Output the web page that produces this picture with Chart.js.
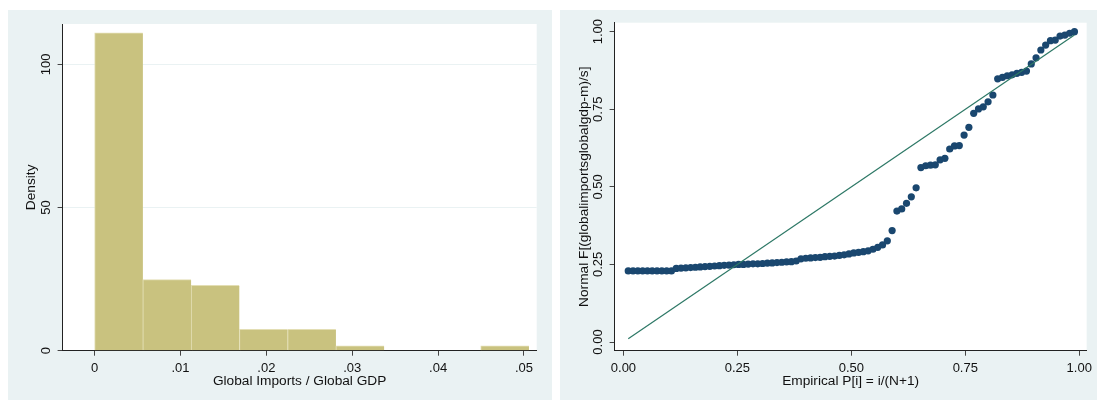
<!DOCTYPE html>
<html>
<head>
<meta charset="utf-8">
<script src="https://cdn.jsdelivr.net/npm/chart.js@4.4.1/dist/chart.umd.min.js"></script>
<style>
  html, body { margin: 0; padding: 0; background: #fff; }
  body { width: 1097px; height: 400px; position: relative; overflow: hidden; }
  .panel { position: absolute; top: 10px; height: 390px; background: #eaf2f3; }
  #left { left: 8px; width: 544px; }
  #right { left: 560px; width: 537px; }
  canvas { display: block; }
</style>
</head>
<body>
<div class="panel" id="left"><canvas id="hist" width="544" height="390"></canvas></div>
<div class="panel" id="right"><canvas id="pnorm" width="537" height="390"></canvas></div>
<script>
// histogram (left panel): bin edges and density heights
const binEdges = [0, 0.00562, 0.01124, 0.01686, 0.02248, 0.0281, 0.03372, 0.03934, 0.04496, 0.05058];
const density = [111.0, 24.8, 22.8, 7.5, 7.5, 1.7, 0, 0, 1.7];
const histXTicks = [0, 0.01, 0.02, 0.03, 0.04, 0.05];
const histYTicks = [0, 50, 100];

// normal probability plot (right panel): Normal F of each sorted observation
const normalF = [
  0.229, 0.229, 0.229, 0.229, 0.229, 0.229, 0.229, 0.229, 0.229, 0.229,
  0.237, 0.238, 0.239, 0.240, 0.241, 0.242, 0.243, 0.244, 0.245, 0.246,
  0.247, 0.248, 0.249, 0.250, 0.250, 0.251, 0.252, 0.252, 0.253, 0.254,
  0.255, 0.256, 0.257, 0.258, 0.259, 0.261, 0.268, 0.270, 0.271, 0.272,
  0.273, 0.275, 0.276, 0.277, 0.279, 0.281, 0.284, 0.287, 0.289, 0.291,
  0.294, 0.299, 0.305, 0.313, 0.326, 0.359, 0.422, 0.429, 0.447, 0.468,
  0.497, 0.562, 0.568, 0.570, 0.571, 0.587, 0.592, 0.622, 0.632, 0.633,
  0.667, 0.692, 0.737, 0.751, 0.758, 0.774, 0.796, 0.848, 0.853, 0.858,
  0.861, 0.866, 0.869, 0.873, 0.896, 0.916, 0.941, 0.957, 0.971, 0.973,
  0.986, 0.989, 0.995, 1.000
];
const ppTicks = [0, 0.25, 0.5, 0.75, 1];

// Empirical P[i] = i/(N+1)
const empiricalP = normalF.map((_, i) => (i + 1) / (normalF.length + 1));

Chart.defaults.font.family = "'Liberation Sans', Arial, Helvetica, sans-serif";
Chart.defaults.color = '#111';

const TEXT = '#111';
const AXIS = '#222';

// white plot region on the light panel background
const plotArea = {
  id: 'plotArea',
  beforeDraw(chart) {
    const { ctx, chartArea: a } = chart;
    ctx.save();
    ctx.fillStyle = '#ffffff';
    ctx.fillRect(a.left, a.top, a.right - a.left, a.bottom - a.top);
    ctx.restore();
  }
};

function setTicks(values) {
  return scale => { scale.ticks = values.map(v => ({ value: v })); };
}
function fixSize(size) {
  return scale => {
    if (scale.isHorizontal()) scale.height = size;
    else scale.width = size;
  };
}

function xAxis(min, max, ticks, fmt, title) {
  return {
    type: 'linear', min: min, max: max, offset: false,
    afterBuildTicks: setTicks(ticks),
    afterFit: fixSize(49.3),
    grid: { drawOnChartArea: false, offset: false, tickLength: 5, tickColor: '#444', color: '#444' },
    border: { color: AXIS, width: 1 },
    ticks: { autoSkip: false, maxRotation: 0, padding: 5, color: TEXT, font: { size: 13 }, callback: fmt },
    title: { display: true, text: title, color: TEXT, font: { size: 13.7 }, padding: { top: 0, bottom: 10.8 } }
  };
}

function yAxis(min, max, ticks, fmt, title, pad, titlePad, gridOn) {
  return {
    type: 'linear', min: min, max: max,
    afterBuildTicks: setTicks(ticks),
    afterFit: fixSize(54.6),
    grid: { drawOnChartArea: gridOn, tickLength: 5, tickColor: '#444', color: '#eaf2f3', lineWidth: 1 },
    border: { color: AXIS, width: 1 },
    ticks: { autoSkip: false, minRotation: 90, maxRotation: 90, crossAlign: 'center', padding: pad,
             color: TEXT, font: { size: 13 }, callback: fmt },
    title: { display: true, text: title, color: TEXT, font: { size: 13.7 }, padding: { top: titlePad, bottom: 0 } }
  };
}

const stataShort = v => (v === 0 ? '0' : String(v).replace(/^0/, ''));
const twoDec = v => Number(v).toFixed(2);

new Chart(document.getElementById('hist'), {
  type: 'bar',
  data: {
    datasets: [{
      data: density.map((d, i) => ({ x: (binEdges[i] + binEdges[i + 1]) / 2, y: d })),
      backgroundColor: '#c9c27f',
      borderColor: '#e3deb4',
      borderWidth: { top: 1, left: 1, right: 0, bottom: 0 },
      barPercentage: 1,
      categoryPercentage: 1
    }]
  },
  options: {
    responsive: false,
    animation: false,
    layout: { padding: { left: 0, top: 14, right: 15.3, bottom: 0 } },
    plugins: { legend: { display: false }, tooltip: { enabled: false } },
    scales: {
      x: xAxis(-0.00373, 0.05148, histXTicks, stataShort, 'Global Imports / Global GDP'),
      y: yAxis(0, 114.07, histYTicks, v => String(v), 'Density', 0.5, 15.2, true)
    }
  },
  plugins: [plotArea]
});

new Chart(document.getElementById('pnorm'), {
  type: 'scatter',
  data: {
    datasets: [{
      type: 'line',
      data: [
        { x: empiricalP[0], y: empiricalP[0] },
        { x: empiricalP[empiricalP.length - 1], y: empiricalP[empiricalP.length - 1] }
      ],
      borderColor: '#2d7866',
      borderWidth: 1.2,
      pointRadius: 0,
      showLine: true,
      fill: false
    }, {
      data: normalF.map((y, i) => ({ x: empiricalP[i], y: y })),
      pointRadius: 3.6,
      pointBackgroundColor: '#1a476f',
      pointBorderWidth: 0,
      borderWidth: 0
    }]
  },
  options: {
    responsive: false,
    animation: false,
    layout: { padding: { left: 0, top: 12.7, right: 7, bottom: 0 } },
    plugins: { legend: { display: false }, tooltip: { enabled: false } },
    scales: {
      x: xAxis(-0.0194, 1.0163, ppTicks, twoDec, 'Empirical P[i] = i/(N+1)'),
      y: yAxis(-0.028, 1.029, ppTicks, twoDec, 'Normal F[(globalimportsglobalgdp-m)/s]', -1.3, 16.2, false)
    }
  },
  plugins: [plotArea]
});
</script>
</body>
</html>
